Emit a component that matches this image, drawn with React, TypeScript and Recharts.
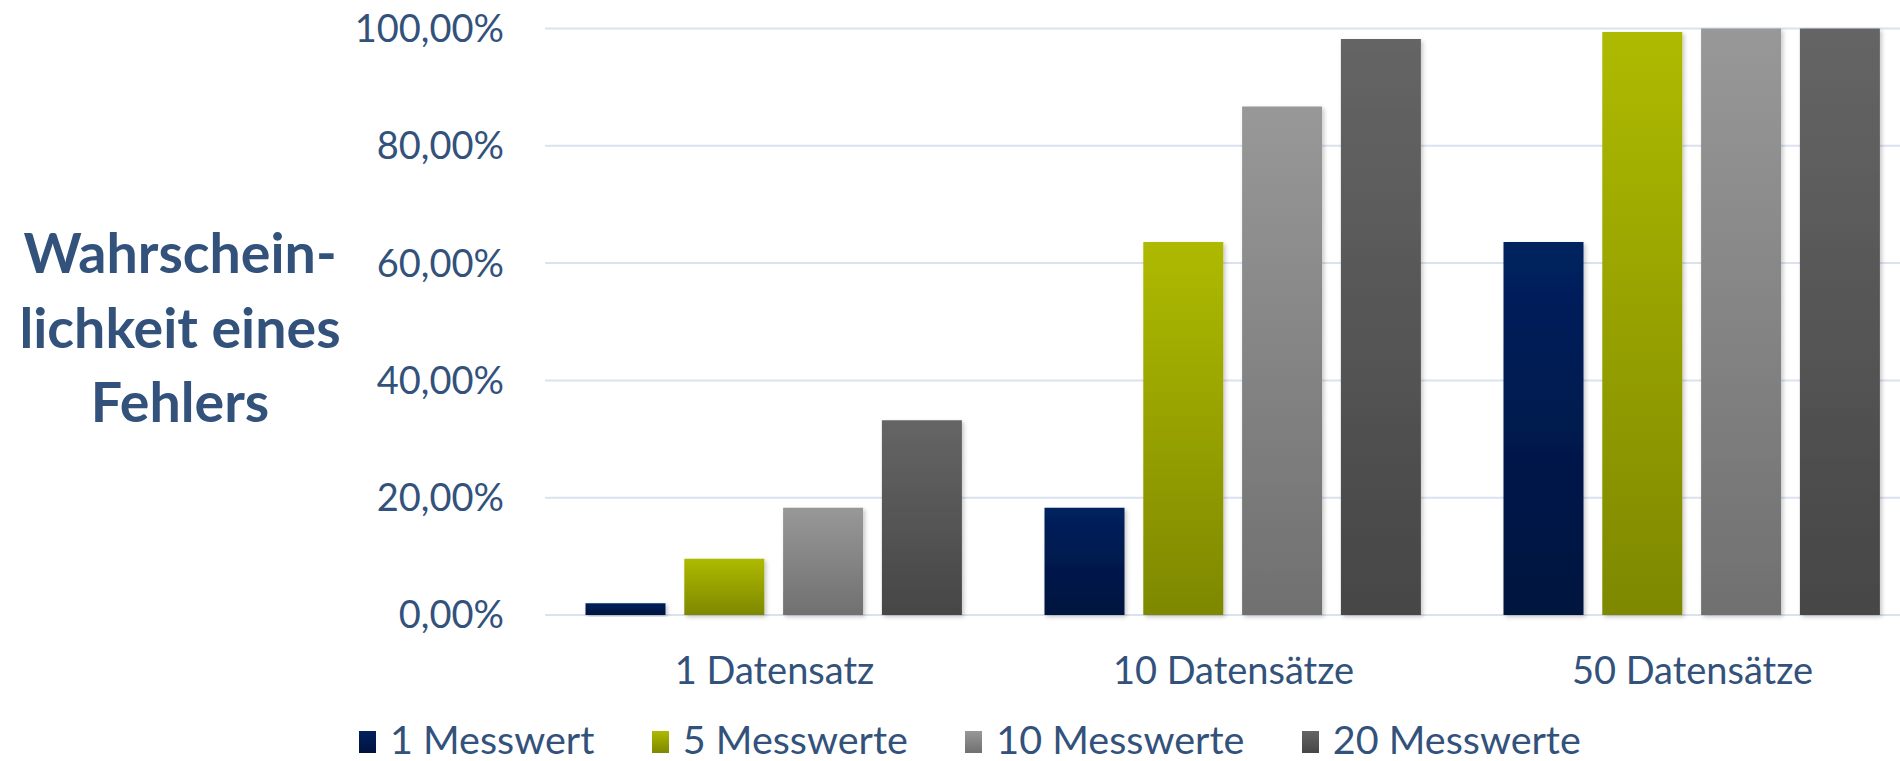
import React from 'react';
import { BarChart, Bar, XAxis, YAxis, CartesianGrid, Legend, Rectangle } from 'recharts';

// Fehlerwahrscheinlichkeit je Anzahl Datensätze und Messwerte (in %)
const categories = ['1 Datensatz', '10 Datensätze', '50 Datensätze'];
const einMesswert = [2.0, 18.3, 63.6];
const fuenfMesswerte = [9.6, 63.6, 99.4];
const zehnMesswerte = [18.3, 86.7, 100.0];
const zwanzigMesswerte = [33.2, 98.2, 100.0];
const yTicks = [0, 20, 40, 60, 80, 100];
const titleLines = ['Wahrschein-', 'lichkeit eines', 'Fehlers'];

const TEXT = '#33527b';
const GRID = '#dae2f0';
const FONT = 'Lato, "Open Sans", sans-serif';

const series = [
  { key: 'm1', name: '1 Messwert', values: einMesswert, id: 'gradBlue', top: '#00215f', bottom: '#00133e' },
  { key: 'm5', name: '5 Messwerte', values: fuenfMesswerte, id: 'gradOlive', top: '#aeba00', bottom: '#7e8800' },
  { key: 'm10', name: '10 Messwerte', values: zehnMesswerte, id: 'gradLight', top: '#989898', bottom: '#707070' },
  { key: 'm20', name: '20 Messwerte', values: zwanzigMesswerte, id: 'gradDark', top: '#656565', bottom: '#464646' },
];

const data = categories.map((category, i) => {
  const row: Record<string, string | number> = { category };
  series.forEach((s) => {
    row[s.key] = s.values[i];
  });
  return row;
});

const formatPercent = (v: number) => `${v.toFixed(2).replace('.', ',')}%`;

function AxisTitle(props: any) {
  const vb = props.viewBox || { x: 0, y: 0, width: 0, height: 0 };
  const cx = vb.x + 180;
  const mid = vb.y + vb.height / 2 + 26;
  return (
    <text textAnchor="middle" fill={TEXT} fontFamily={FONT} fontWeight={700} fontSize={55.5}>
      {titleLines.map((line, i) => (
        <tspan key={line} x={cx} y={mid + (i - 1) * 74.5}>
          {line}
        </tspan>
      ))}
    </text>
  );
}

function LegendContent() {
  return (
    <div style={{ display: 'flex', alignItems: 'center', fontFamily: FONT, fontSize: 39.5, lineHeight: '40px', color: TEXT, whiteSpace: 'nowrap' }}>
      {series.map((s, i) => (
        <div key={s.key} style={{ display: 'flex', alignItems: 'center', marginLeft: i === 0 ? 0 : 57.5 }}>
          <svg width={17} height={22} style={{ display: 'block', marginTop: 6 }}>
            <rect x={0} y={0} width={17} height={22} fill={`url(#${s.id})`} />
          </svg>
          <span style={{ marginLeft: 14 }}>{s.name}</span>
        </div>
      ))}
    </div>
  );
}

const ShadowBar = (props: any) => <Rectangle {...props} filter="url(#barShadow)" />;

export default function App() {
  return (
    <div style={{ position: 'absolute', left: 0, top: 0, width: 1900, height: 761, overflow: 'hidden', background: '#ffffff' }}>
      <BarChart
        width={1922}
        height={761}
        data={data}
        margin={{ top: 28.5, right: 0, bottom: 0, left: 0 }}
        barCategoryGap={40.5}
        barGap={18.8}
        style={{ fontFamily: FONT }}
      >
        <defs>
          {series.map((s) => (
            <linearGradient key={s.id} id={s.id} x1="0" y1="0" x2="0" y2="1">
              <stop offset="0%" stopColor={s.top} />
              <stop offset="100%" stopColor={s.bottom} />
            </linearGradient>
          ))}
          <filter id="barShadow" x="-20%" y="-5%" width="140%" height="115%">
            <feDropShadow dx="2" dy="2" stdDeviation="2" floodColor="#000000" floodOpacity="0.22" />
          </filter>
        </defs>
        <CartesianGrid vertical={false} stroke={GRID} strokeWidth={2} />
        <XAxis
          dataKey="category"
          interval={0}
          axisLine={false}
          tickLine={false}
          tickSize={0}
          tickMargin={42}
          height={146}
          tick={{ fontSize: 38, fill: TEXT, fontFamily: FONT }}
        />
        <YAxis
          width={545}
          domain={[0, 100]}
          ticks={yTicks}
          tickFormatter={formatPercent}
          axisLine={false}
          tickLine={false}
          tickSize={0}
          tickMargin={41}
          tick={{ fontSize: 38, fill: TEXT, fontFamily: FONT }}
          label={{ content: AxisTitle }}
        />
        <Legend
          layout="horizontal"
          verticalAlign="middle"
          align="center"
          content={LegendContent}
          wrapperStyle={{ left: 359, top: 719, width: 'auto' }}
        />
        {series.map((s) => (
          <Bar
            key={s.key}
            dataKey={s.key}
            name={s.name}
            fill={`url(#${s.id})`}
            shape={ShadowBar}
            isAnimationActive={false}
          />
        ))}
      </BarChart>
    </div>
  );
}
